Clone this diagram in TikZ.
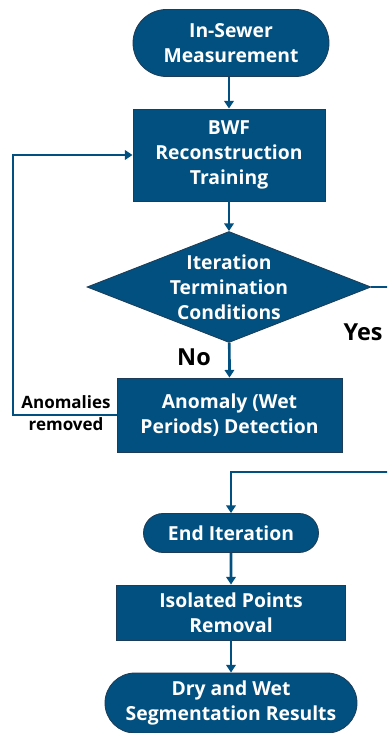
\documentclass[tikz,border=0pt]{standalone}
\usepackage{fontspec}
\setmainfont{Open Sans}
\usetikzlibrary{shapes.geometric,shapes.misc,arrows.meta}
\definecolor{flowblue}{HTML}{02507F}
\definecolor{flowedge}{HTML}{1C3C57}
\tikzset{
  box/.style={draw=flowedge, line width=0.7pt, fill=flowblue, text=white,
    font=\bfseries\fontsize{16.5}{21.3}\selectfont, align=center, inner sep=0pt},
  stadium/.style={box, rounded rectangle},
  decision/.style={box, diamond},
  flowline/.style={draw=flowblue, line width=2.3pt},
  flowarrow/.style={flowline, -{Triangle[length=6.5pt,width=8pt]}},
  answer/.style={font=\bfseries\fontsize{20}{24}\selectfont},
  looplabel/.style={font=\bfseries\fontsize{14.5}{18.5}\selectfont, align=center}
}
\begin{document}
\begin{tikzpicture}[x=0.03cm,y=-0.03cm]
    \useasboundingbox (0,0) rectangle (387,733);
    \clip (0,0) rectangle (387,733);
    % main column
    \node[stadium, minimum width=5.88cm, minimum height=2.01cm] (meas) at (231,43) {In-Sewer\\Measurement};
    \node[box, minimum width=5.76cm, minimum height=2.76cm] (bwf) at (229,155) {BWF\\Reconstruction\\Training};
    \node[decision, minimum width=8.52cm, minimum height=3.33cm] (cond) at (229,287) {};
    \node[box, draw=none, fill=none] (condtext) at (cond) {Iteration\\Termination\\Conditions};
    \node[box, minimum width=6.75cm, minimum height=2.22cm] (anom) at (229.5,415) {Anomaly (Wet\\Periods) Detection};
    \node[stadium, minimum width=5.25cm, minimum height=1.17cm] (endit) at (231,533) {End Iteration};
    \node[box, minimum width=6.87cm, minimum height=1.65cm] (iso) at (231,612.5) {Isolated Points\\Removal};
    \node[stadium, minimum width=7.56cm, minimum height=1.80cm] (res) at (231,703) {Dry and Wet\\Segmentation Results};
    % labels
    \node[answer] (no) at (194,357) {No};
    \node[answer] (yes) at (363,332) {Yes};
    \node[looplabel] (removed) at (66,413) {Anomalies\\removed};
    % connectors
    \coordinate (loopbot) at (13,415);
    \coordinate (yesout) at (396,287);
    \coordinate (yesin) at (396,472);
    \draw[flowarrow] (bwf.north |- meas.south) -- (bwf.north);
    \draw[flowarrow] (bwf) -- (cond.north);
    \draw[flowarrow] (cond) -- (anom.north);
    \draw[flowarrow] (anom.west) -- (loopbot) |- (bwf.west);
    \draw[flowarrow] (cond.east) -- (yesout) -- (yesin) -| (endit.north);
    \draw[flowarrow] (endit) -- (iso.north);
    \draw[flowarrow] (iso) -- (res.north);
\end{tikzpicture}
\end{document}
